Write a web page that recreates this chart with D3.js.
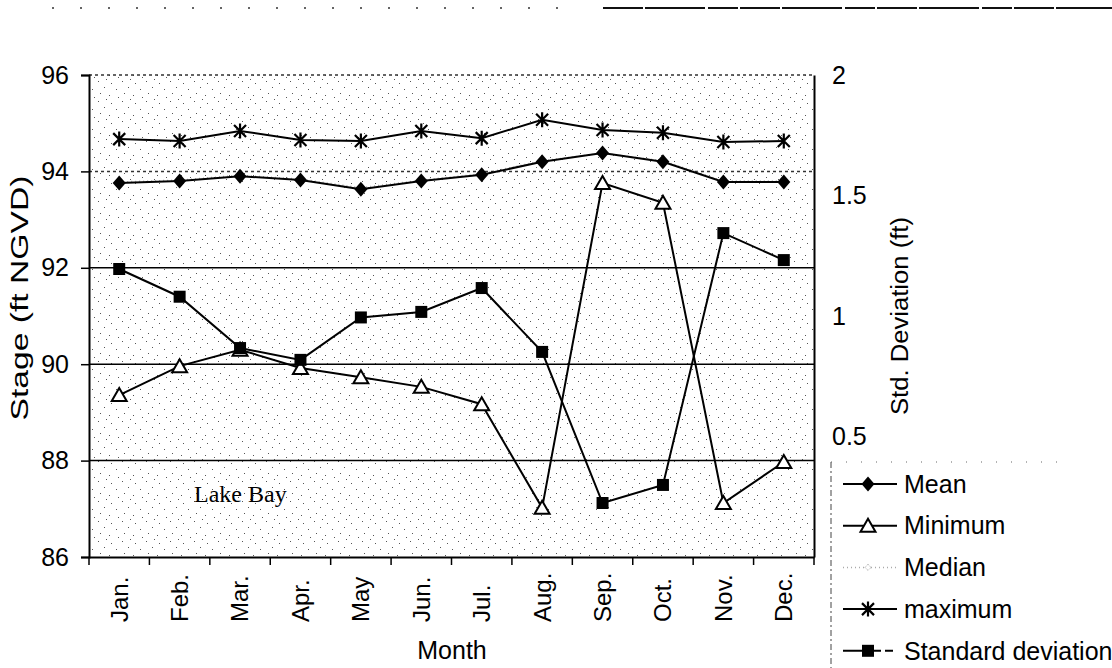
<!DOCTYPE html>
<html><head><meta charset="utf-8">
<script src="https://cdn.jsdelivr.net/npm/d3@7"></script>
<style>
html,body{margin:0;padding:0;background:#fff;}
svg{display:block;font-family:"Liberation Sans",Arial,sans-serif;}
</style></head>
<body>
<svg id="chart" width="1112" height="668"></svg>
<script>
// ---- data ----
const months = ["Jan.","Feb.","Mar.","Apr.","May","Jun.","Jul.","Aug.","Sep.","Oct.","Nov.","Dec."];
const meanVals    = [93.76,93.80,93.90,93.82,93.63,93.80,93.93,94.20,94.38,94.20,93.78,93.78];
const minVals     = [89.36,89.96,90.30,89.92,89.73,89.53,89.17,87.02,93.76,93.35,87.12,87.97];
const medianVals  = [93.78,93.82,93.92,93.84,93.66,93.82,93.95,94.22,94.38,94.22,93.80,93.80];
const maxVals     = [94.67,94.63,94.84,94.65,94.63,94.84,94.69,95.07,94.86,94.80,94.61,94.63];
const stdVals     = [1.195,1.080,0.867,0.818,0.994,1.017,1.116,0.851,0.224,0.299,1.344,1.232];
const leftTicks   = [86,88,90,92,94,96];
const rightTicks  = [0.5,1,1.5,2];
const legendNames = ["Mean","Minimum","Median","maximum","Standard deviation"];

const svg = d3.select("#chart");
const L = 89, R = 814, T = 75, B = 557;
const FS = 25;

const x = d3.scaleBand().domain(months).range([L, R]);
const cx = m => x(m) + x.bandwidth()/2;
const yL = d3.scaleLinear().domain([86,96]).range([B, T]);
const yR = d3.scaleLinear().domain([0,2]).range([B, T]);

// light stipple pattern for plot background
const defs = svg.append("defs");
const pat = defs.append("pattern").attr("id","stip").attr("patternUnits","userSpaceOnUse")
  .attr("width",24).attr("height",20);
[[2,1],[15,3],[8,7],[20,9],[4,13],[13,15],[22,17],[10,19]].forEach(p=>{
  pat.append("rect").attr("x",p[0]).attr("y",p[1]).attr("width",1).attr("height",1).attr("fill","#555");
});
svg.append("rect").attr("x",L).attr("y",T).attr("width",R-L).attr("height",B-T).attr("fill","url(#stip)");

// scan artifact line at top
svg.append("line").attr("x1",603).attr("x2",1112).attr("y1",8).attr("y2",8)
  .attr("stroke","#111").attr("stroke-width",2).attr("stroke-dasharray","40,2,60,3,30,2");
svg.append("line").attr("x1",52).attr("x2",560).attr("y1",8).attr("y2",8)
  .attr("stroke","#333").attr("stroke-width",1.5).attr("stroke-dasharray","2,26");

// gridlines
const grid = svg.append("g");
leftTicks.forEach(t=>{
  if (t===86) return;
  const dotted = (t===94||t===96);
  grid.append("line").attr("x1",L).attr("x2",R).attr("y1",yL(t)).attr("y2",yL(t))
    .attr("stroke", dotted ? "#333" : "#000").attr("stroke-width",1.5)
    .attr("stroke-dasharray", dotted ? "3,3" : null);
});

// axes
const axL = d3.axisLeft(yL).tickValues(leftTicks).tickSize(8).tickPadding(12).tickFormat(d3.format("d"));
const gL = svg.append("g").attr("transform",`translate(${L},0)`).call(axL);
gL.select(".domain").attr("stroke-width",2);
gL.selectAll(".tick line").attr("stroke-width",1.5);
gL.selectAll("text").attr("font-size",FS).attr("fill","#000");

const axR = d3.axisRight(yR).tickValues(rightTicks).tickSize(0).tickPadding(18).tickFormat(d3.format("~g"));
const gR = svg.append("g").attr("transform",`translate(${R},0)`).call(axR);
gR.select(".domain").attr("stroke-width",2);
gR.selectAll("text").attr("font-size",FS).attr("fill","#000");

const axB = d3.axisBottom(x).tickSize(0).tickPadding(0);
const gB = svg.append("g").attr("transform",`translate(0,${B})`).call(axB);
gB.select(".domain").attr("stroke-width",2);
gB.selectAll("text").attr("font-size",24).attr("fill","#000")
  .attr("text-anchor","start").attr("transform","rotate(-90)")
  .attr("x",-65).attr("y",0).attr("dy","0.35em");
// month boundary ticks
gB.selectAll(".bt").data(d3.range(13)).enter().append("line").attr("class","bt")
  .attr("x1",i=>L+i*x.step()).attr("x2",i=>L+i*x.step()).attr("y1",0).attr("y2",8)
  .attr("stroke","#000").attr("stroke-width",1.5);

// axis titles
svg.append("text").attr("transform","translate(20,298) rotate(-90)").attr("text-anchor","middle")
  .attr("dy","0.35em").attr("font-size",23).attr("textLength",245).attr("lengthAdjust","spacingAndGlyphs")
  .text("Stage (ft NGVD)");
svg.append("text").attr("transform","translate(900,316) rotate(-90)").attr("text-anchor","middle")
  .attr("dy","0.35em").attr("font-size",23).attr("textLength",198).attr("lengthAdjust","spacingAndGlyphs")
  .text("Std. Deviation (ft)");
svg.append("text").attr("x",452).attr("y",659).attr("text-anchor","middle")
  .attr("font-size",FS).text("Month");
svg.append("text").attr("x",194).attr("y",502).attr("font-family","'Liberation Serif',serif")
  .attr("font-size",24).text("Lake Bay");

// marker drawers
const diamond = "M0,-7.5L6.5,0L0,7.5L-6.5,0Z";
const tri = "M0,-7L7.5,6L-7.5,6Z";
const sq = "M-6,-6H6V6H-6Z";
const star = "M-6,-6L6,6M-6,6L6,-6M0,-7.5L0,7.5";
function drawMarker(g, type, px, py){
  if (type==="mean") g.append("path").attr("d",diamond).attr("transform",`translate(${px},${py})`).attr("fill","#000");
  else if (type==="min") g.append("path").attr("d",tri).attr("transform",`translate(${px},${py})`).attr("fill","#fff").attr("stroke","#000").attr("stroke-width",2);
  else if (type==="median") g.append("path").attr("d","M0,-3L3,0L0,3L-3,0Z").attr("transform",`translate(${px},${py})`).attr("fill","#fff").attr("stroke","#999").attr("stroke-width",1).attr("stroke-dasharray","1,1");
  else if (type==="max") g.append("path").attr("d",star).attr("transform",`translate(${px},${py})`).attr("fill","none").attr("stroke","#000").attr("stroke-width",2.2);
  else if (type==="std") g.append("path").attr("d",sq).attr("transform",`translate(${px},${py})`).attr("fill","#000");
}
const series = [
  {type:"median", vals:medianVals, y:yL, stroke:"#aaa", dash:"1,3", w:1.5},
  {type:"max",    vals:maxVals,    y:yL, stroke:"#000", dash:null, w:2},
  {type:"mean",   vals:meanVals,   y:yL, stroke:"#000", dash:null, w:2},
  {type:"min",    vals:minVals,    y:yL, stroke:"#000", dash:null, w:2},
  {type:"std",    vals:stdVals,    y:yR, stroke:"#000", dash:null, w:2}
];
series.forEach(s=>{
  const g = svg.append("g");
  const line = d3.line().x((d,i)=>cx(months[i])).y(d=>s.y(d));
  g.append("path").attr("d",line(s.vals)).attr("fill","none").attr("stroke",s.stroke)
    .attr("stroke-width",s.w).attr("stroke-dasharray",s.dash);
  s.vals.forEach((v,i)=>drawMarker(g,s.type,cx(months[i]),s.y(v)));
});

// legend
const lg = svg.append("g");
lg.append("line").attr("x1",831).attr("x2",831).attr("y1",462).attr("y2",668)
  .attr("stroke","#444").attr("stroke-width",1).attr("stroke-dasharray","6,3,2,3");
lg.append("line").attr("x1",831).attr("x2",1060).attr("y1",462).attr("y2",462)
  .attr("stroke","#666").attr("stroke-width",1).attr("stroke-dasharray","1,14");
const legTypes = ["mean","min","median","max","std"];
legTypes.forEach((t,i)=>{
  const yy = 484 + i*41.7;
  const s = series.find(q=>q.type===t);
  lg.append("line").attr("x1",843).attr("x2",897).attr("y1",yy).attr("y2",yy)
    .attr("stroke",s.stroke).attr("stroke-width",s.w).attr("stroke-dasharray",t==="std"?"38,4,8,4":s.dash);
  drawMarker(lg,t,868,yy);
  lg.append("text").attr("x",904).attr("y",yy).attr("dy","0.35em").attr("font-size",FS).text(legendNames[i]);
});
</script>
</body></html>
